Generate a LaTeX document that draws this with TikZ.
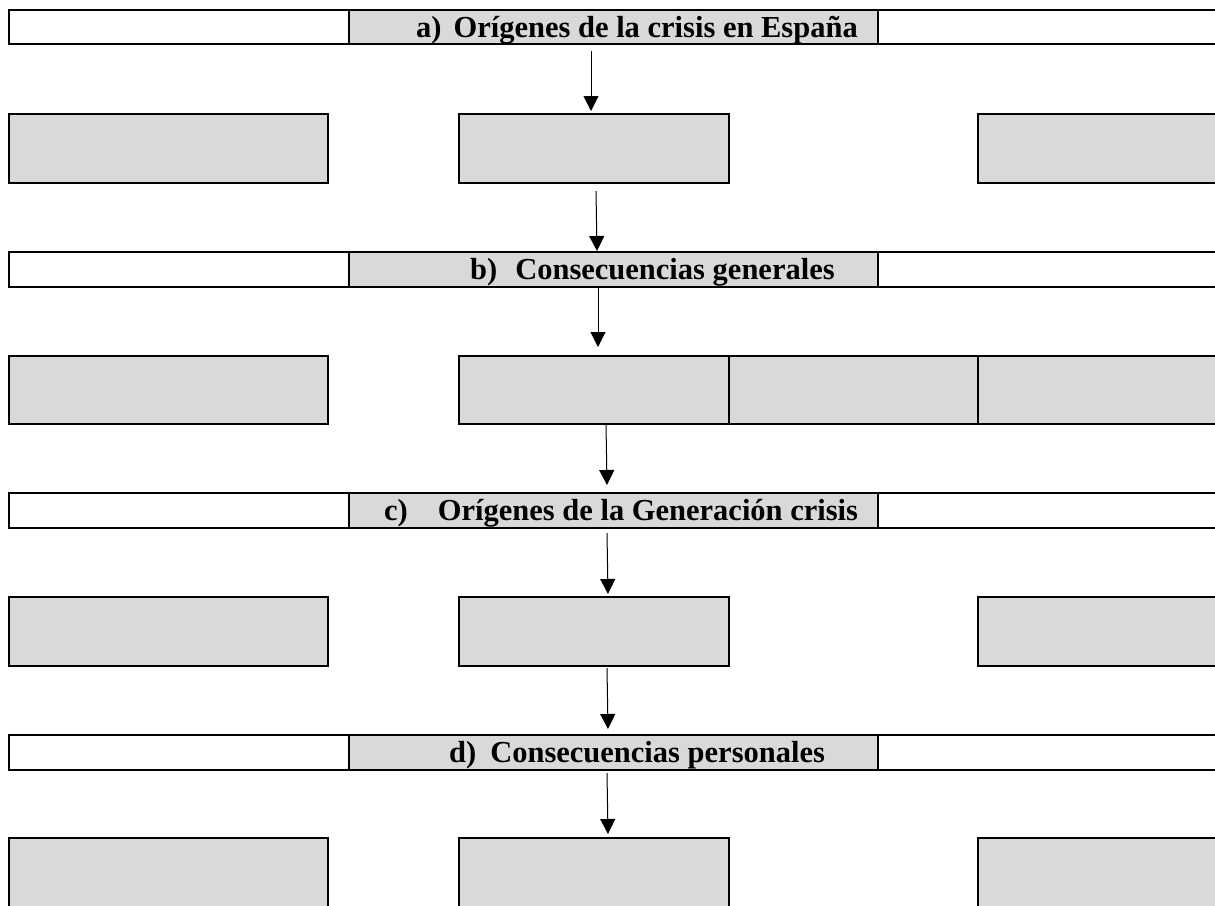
\documentclass[tikz,border=0pt]{standalone}
\usepackage{fontspec}
\setmainfont{Liberation Serif}
\usetikzlibrary{arrows.meta}
\definecolor{boxgray}{RGB}{217,217,217}
\tikzset{
  cell/.style={draw=black, line width=2pt, inner sep=0pt, outer sep=0pt, anchor=north west},
  whitecell/.style={cell, fill=white},
  graycell/.style={cell, fill=boxgray},
  title/.style={inner sep=0pt, anchor=base west, font=\fontsize{30.5}{36}\selectfont\bfseries},
  flow/.style={line width=1pt, -{Triangle[length=15pt,width=15pt]}}
}
\begin{document}
\begin{tikzpicture}[x=1pt,y=-1pt]
\useasboundingbox (0,0) rectangle (1215,905);
\clip (0,0) rectangle (1215,905);
% header a
\node[whitecell, minimum width=340pt, minimum height=34pt] (aL) at (9,10) {};
\node[graycell, minimum width=529pt, minimum height=34pt] (aM) at (349,10) {};
\node[whitecell, minimum width=360pt, minimum height=34pt] (aR) at (878,10) {};
\node[title] (aT) at (416,37) {a)\hspace{12pt}Orígenes de la crisis en España};
% row 1
\node[graycell, minimum width=319pt, minimum height=69pt] (r1L) at (9,114) {};
\node[graycell, minimum width=270pt, minimum height=69pt] (r1M) at (459,114) {};
\node[graycell, minimum width=260pt, minimum height=69pt] (r1R) at (978,114) {};
% header b
\node[whitecell, minimum width=340pt, minimum height=35pt] (bL) at (9,252) {};
\node[graycell, minimum width=529pt, minimum height=35pt] (bM) at (349,252) {};
\node[whitecell, minimum width=360pt, minimum height=35pt] (bR) at (878,252) {};
\node[title] (bT) at (470,279) {b)\hspace{18pt}Consecuencias generales};
% row 2
\node[graycell, minimum width=319pt, minimum height=68pt] (r2L) at (9,356) {};
\node[graycell, minimum width=270pt, minimum height=68pt] (r2M) at (459,356) {};
\node[graycell, minimum width=249pt, minimum height=68pt] (r2N) at (729,356) {};
\node[graycell, minimum width=260pt, minimum height=68pt] (r2R) at (978,356) {};
% header c
\node[whitecell, minimum width=340pt, minimum height=35pt] (cL) at (9,493) {};
\node[graycell, minimum width=529pt, minimum height=35pt] (cM) at (349,493) {};
\node[whitecell, minimum width=360pt, minimum height=35pt] (cR) at (878,493) {};
\node[title] (cT) at (384,520) {c)\hspace{30pt}Orígenes de la Generación crisis};
% row 3
\node[graycell, minimum width=319pt, minimum height=69pt] (r3L) at (9,597) {};
\node[graycell, minimum width=270pt, minimum height=69pt] (r3M) at (459,597) {};
\node[graycell, minimum width=260pt, minimum height=69pt] (r3R) at (978,597) {};
% header d
\node[whitecell, minimum width=340pt, minimum height=35pt] (dL) at (9,735) {};
\node[graycell, minimum width=529pt, minimum height=35pt] (dM) at (349,735) {};
\node[whitecell, minimum width=360pt, minimum height=35pt] (dR) at (878,735) {};
\node[title] (dT) at (449,762) {d)\hspace{14pt}Consecuencias personales};
% row 4
\node[graycell, minimum width=319pt, minimum height=80pt] (r4L) at (9,838) {};
\node[graycell, minimum width=270pt, minimum height=80pt] (r4M) at (459,838) {};
\node[graycell, minimum width=260pt, minimum height=80pt] (r4R) at (978,838) {};
% arrows
\coordinate (s1) at (591,51);  \coordinate (e1) at (591,111);
\coordinate (s2) at (596,191); \coordinate (e2) at (597,251);
\coordinate (s3) at (598,288); \coordinate (e3) at (598,347);
\coordinate (s4) at (606,424); \coordinate (e4) at (607,485);
\coordinate (s5) at (607,533); \coordinate (e5) at (608,594);
\coordinate (s6) at (607,668); \coordinate (e6) at (608,729);
\coordinate (s7) at (607,773); \coordinate (e7) at (608,834);
\foreach \i in {1,...,7} { \draw[flow] (s\i) -- (e\i); }
\end{tikzpicture}
\end{document}
